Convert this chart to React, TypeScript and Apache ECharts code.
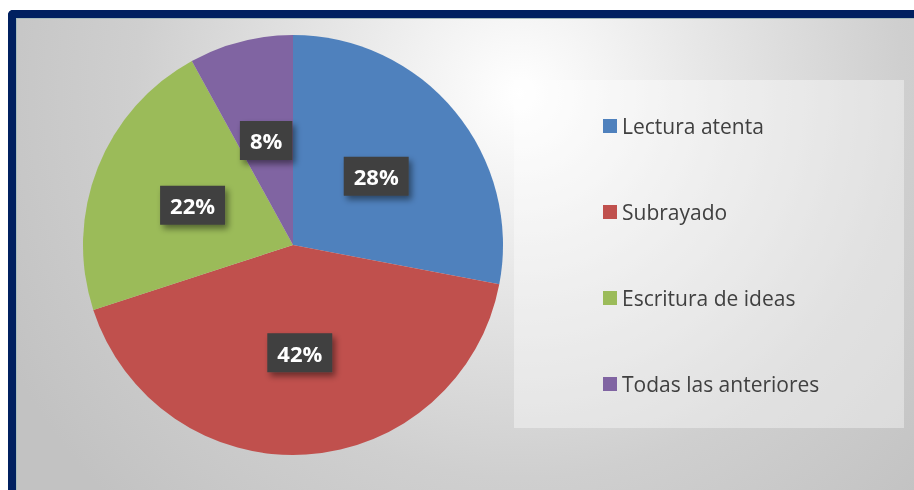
import React, { useEffect, useRef } from "react";
import * as echarts from "echarts";

const categories = ["Lectura atenta", "Subrayado", "Escritura de ideas", "Todas las anteriores"];
const values = [28, 42, 22, 8];
const colors = ["#4f81bd", "#c0504d", "#9bbb59", "#8064a2"];

export default function App() {
  const ref = useRef<HTMLDivElement>(null);
  useEffect(() => {
    if (!ref.current) return;
    const chart = echarts.init(ref.current, undefined, { renderer: "svg" });
    chart.setOption({
      animation: false,
      backgroundColor: "transparent",
      graphic: [
        {
          type: "rect",
          left: 498,
          top: 62,
          shape: { width: 390, height: 348 },
          style: { fill: "rgba(255,255,255,0.38)" },
          z: -1,
        },
      ],
      legend: {
        orient: "vertical",
        left: 582,
        top: 92,
        itemWidth: 14,
        itemHeight: 14,
        itemGap: 64,
        icon: "rect",
        data: categories,
        textStyle: {
          fontFamily: "Open Sans",
          fontSize: 21,
          lineHeight: 22,
          color: "#404040",
          padding: [0, 0, 0, 0],
        },
      },
      series: [
        {
          type: "pie",
          center: [277, 227],
          radius: [0, 210],
          startAngle: 90,
          clockwise: true,
          data: categories.map((c, i) => ({ name: c, value: values[i], itemStyle: { color: colors[i] } })),
          label: {
            show: true,
            position: "inside",
            formatter: (p: any) => p.value + "%",
            fontFamily: "Open Sans",
            fontWeight: "bold",
            fontSize: 22,
            color: "#ffffff",
            backgroundColor: "#3f3f3f",
            padding: [9, 10, 8, 10],
            shadowColor: "rgba(0,0,0,0.45)",
            shadowBlur: 6,
            shadowOffsetX: 3,
            shadowOffsetY: 4,
          },
          labelLine: { show: false },
          emphasis: { disabled: true },
        },
      ],
    });
    return () => chart.dispose();
  }, []);
  return (
    <div
      style={{
        position: "fixed",
        left: 8,
        top: 10,
        width: 906,
        height: 480,
        boxSizing: "border-box",
        borderTop: "8px solid #002060",
        borderLeft: "8px solid #002060",
        borderTopLeftRadius: 5,
        background: "radial-gradient(circle at 56% 16%, #ffffff 0%, #e6e6e6 30%, #cfcfcf 60%, #c2c2c2 90%)",
        boxShadow: "inset 1px 1px 0 #a8bcbc",
        overflow: "hidden",
      }}
    >
      <div ref={ref} style={{ width: 898, height: 472 }} />
    </div>
  );
}
